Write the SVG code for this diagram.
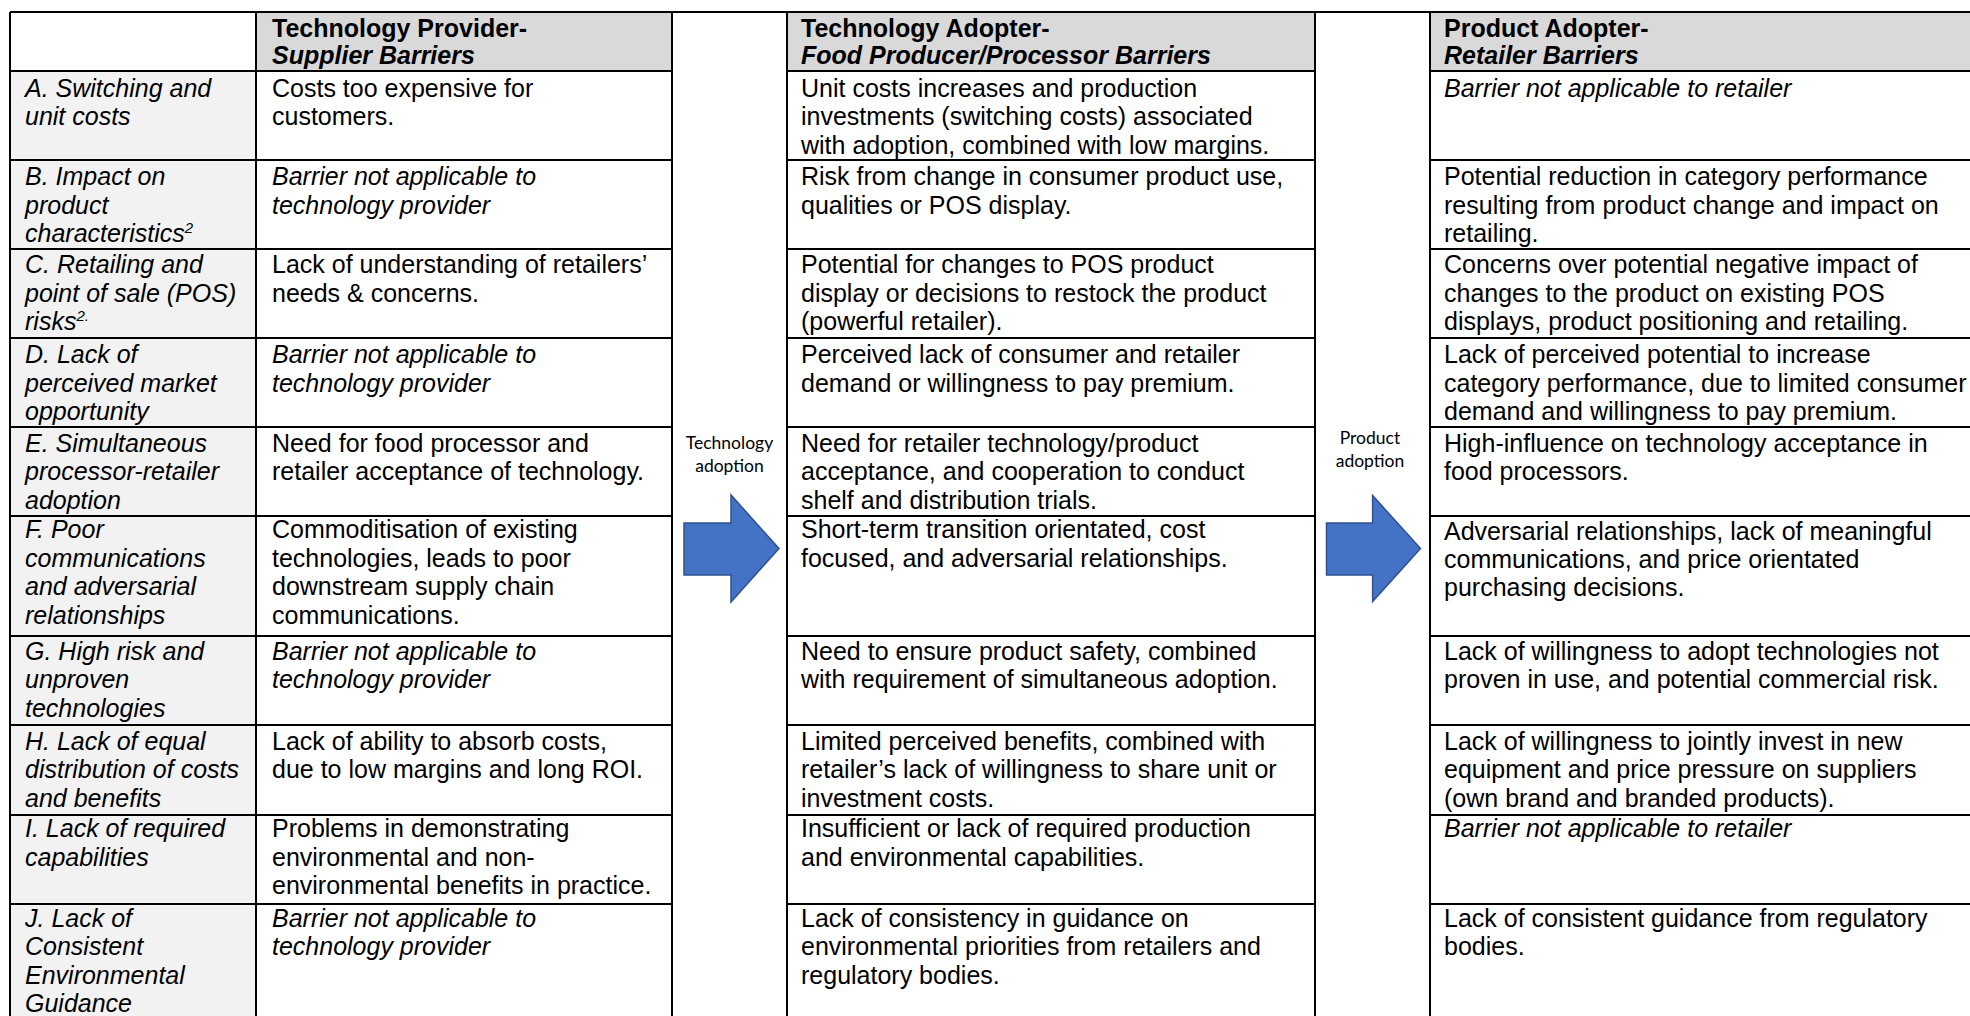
<svg xmlns="http://www.w3.org/2000/svg" width="1970" height="1016" viewBox="0 0 1970 1016">
<style>
.t{font-family:"Liberation Sans",Arial,sans-serif;font-size:25px;fill:#000}
.i{font-style:italic}
.b{font-weight:bold}
.lbl{font-family:Lato,"Open Sans",sans-serif;font-size:17.5px;fill:#000;text-anchor:middle}
.hd{fill:#d9d9d9}
.lb{fill:#f2f2f2}
.ln{stroke:#000;stroke-width:2;fill:none}
.arr{fill:#4472c4;stroke:#2f528f;stroke-width:1.5}
.sup{font-size:15px}
</style>
<rect x="0" y="0" width="1970" height="1016" fill="#fff"/>
<g id="backgrounds">
<rect class="hd" x="256" y="12" width="416" height="59"/>
<rect class="hd" x="787" y="12" width="528" height="59"/>
<rect class="hd" x="1430" y="12" width="570" height="59"/>
<rect class="lb" x="10" y="71" width="246" height="960"/>
</g>
<g id="grid">
<path class="ln" d="M10,12H2000"/>
<path class="ln" d="M10,71H672M787,71H1315M1430,71H2000"/>
<path class="ln" d="M10,160H672M787,160H1315M1430,160H2000"/>
<path class="ln" d="M10,249H672M787,249H1315M1430,249H2000"/>
<path class="ln" d="M10,338H672M787,338H1315M1430,338H2000"/>
<path class="ln" d="M10,427H672M787,427H1315M1430,427H2000"/>
<path class="ln" d="M10,516H672M787,516H1315M1430,516H2000"/>
<path class="ln" d="M10,636H672M787,636H1315M1430,636H2000"/>
<path class="ln" d="M10,725H672M787,725H1315M1430,725H2000"/>
<path class="ln" d="M10,815H672M787,815H1315M1430,815H2000"/>
<path class="ln" d="M10,904H672M787,904H1315M1430,904H2000"/>
<path class="ln" d="M10,12V1030M256,12V1030M672,12V1030M787,12V1030M1315,12V1030M1430,12V1030"/>
</g>
<g id="header">
<text class="t b" x="272" y="37">Technology Provider-<tspan class="i" x="272" dy="26.5">Supplier Barriers</tspan></text>
<text class="t b" x="801" y="37">Technology Adopter-<tspan class="i" x="801" dy="26.5">Food Producer/Processor Barriers</tspan></text>
<text class="t b" x="1444" y="37">Product Adopter-<tspan class="i" x="1444" dy="26.5">Retailer Barriers</tspan></text>
</g>
<g id="row-A">
<text class="t i" x="25" y="96.7">A. Switching and<tspan x="25" dy="28.4">unit costs</tspan></text>
<text class="t" x="272" y="96.7">Costs too expensive for<tspan x="272" dy="28.4">customers.</tspan></text>
<text class="t" x="801" y="96.7">Unit costs increases and production<tspan x="801" dy="28.4">investments (switching costs) associated</tspan><tspan x="801" dy="28.4">with adoption, combined with low margins.</tspan></text>
<text class="t i" x="1444" y="96.7">Barrier not applicable to retailer</text>
</g>
<g id="row-B">
<text class="t i" x="25" y="185.3">B. Impact on<tspan x="25" dy="28.4">product</tspan><tspan x="25" dy="28.4">characteristics</tspan><tspan class="sup" dy="-9">2</tspan></text>
<text class="t i" x="272" y="185.3">Barrier not applicable to<tspan x="272" dy="28.4">technology provider</tspan></text>
<text class="t" x="801" y="185.3">Risk from change in consumer product use,<tspan x="801" dy="28.4">qualities or POS display.</tspan></text>
<text class="t" x="1444" y="185.3">Potential reduction in category performance<tspan x="1444" dy="28.4">resulting from product change and impact on</tspan><tspan x="1444" dy="28.4">retailing.</tspan></text>
</g>
<g id="row-C">
<text class="t i" x="25" y="273.3">C. Retailing and<tspan x="25" dy="28.4">point of sale (POS)</tspan><tspan x="25" dy="28.4">risks</tspan><tspan class="sup" dy="-9">2.</tspan></text>
<text class="t" x="272" y="273.3">Lack of understanding of retailers’<tspan x="272" dy="28.4">needs &amp; concerns.</tspan></text>
<text class="t" x="801" y="273.3">Potential for changes to POS product<tspan x="801" dy="28.4">display or decisions to restock the product</tspan><tspan x="801" dy="28.4">(powerful retailer).</tspan></text>
<text class="t" x="1444" y="273.3">Concerns over potential negative impact of<tspan x="1444" dy="28.4">changes to the product on existing POS</tspan><tspan x="1444" dy="28.4">displays, product positioning and retailing.</tspan></text>
</g>
<g id="row-D">
<text class="t i" x="25" y="363.3">D. Lack of<tspan x="25" dy="28.4">perceived market</tspan><tspan x="25" dy="28.4">opportunity</tspan></text>
<text class="t i" x="272" y="363.3">Barrier not applicable to<tspan x="272" dy="28.4">technology provider</tspan></text>
<text class="t" x="801" y="363.3">Perceived lack of consumer and retailer<tspan x="801" dy="28.4">demand or willingness to pay premium.</tspan></text>
<text class="t" x="1444" y="363.3">Lack of perceived potential to increase<tspan x="1444" dy="28.4">category performance, due to limited consumer</tspan><tspan x="1444" dy="28.4">demand and willingness to pay premium.</tspan></text>
</g>
<g id="row-E">
<text class="t i" x="25" y="451.7">E. Simultaneous<tspan x="25" dy="28.4">processor-retailer</tspan><tspan x="25" dy="28.4">adoption</tspan></text>
<text class="t" x="272" y="451.7">Need for food processor and<tspan x="272" dy="28.4">retailer acceptance of technology.</tspan></text>
<text class="t" x="801" y="451.7">Need for retailer technology/product<tspan x="801" dy="28.4">acceptance, and cooperation to conduct</tspan><tspan x="801" dy="28.4">shelf and distribution trials.</tspan></text>
<text class="t" x="1444" y="451.7">High-influence on technology acceptance in<tspan x="1444" dy="28.4">food processors.</tspan></text>
</g>
<g id="row-F">
<text class="t i" x="25" y="538.3">F. Poor<tspan x="25" dy="28.4">communications</tspan><tspan x="25" dy="28.4">and adversarial</tspan><tspan x="25" dy="28.4">relationships</tspan></text>
<text class="t" x="272" y="538.3">Commoditisation of existing<tspan x="272" dy="28.4">technologies, leads to poor</tspan><tspan x="272" dy="28.4">downstream supply chain</tspan><tspan x="272" dy="28.4">communications.</tspan></text>
<text class="t" x="801" y="538.3">Short-term transition orientated, cost<tspan x="801" dy="28.4">focused, and adversarial relationships.</tspan></text>
<text class="t" x="1444" y="539.5">Adversarial relationships, lack of meaningful<tspan x="1444" dy="28.4">communications, and price orientated</tspan><tspan x="1444" dy="28.4">purchasing decisions.</tspan></text>
</g>
<g id="row-G">
<text class="t i" x="25" y="660">G. High risk and<tspan x="25" dy="28.4">unproven</tspan><tspan x="25" dy="28.4">technologies</tspan></text>
<text class="t i" x="272" y="660">Barrier not applicable to<tspan x="272" dy="28.4">technology provider</tspan></text>
<text class="t" x="801" y="660">Need to ensure product safety, combined<tspan x="801" dy="28.4">with requirement of simultaneous adoption.</tspan></text>
<text class="t" x="1444" y="660">Lack of willingness to adopt technologies not<tspan x="1444" dy="28.4">proven in use, and potential commercial risk.</tspan></text>
</g>
<g id="row-H">
<text class="t i" x="25" y="750">H. Lack of equal<tspan x="25" dy="28.4">distribution of costs</tspan><tspan x="25" dy="28.4">and benefits</tspan></text>
<text class="t" x="272" y="750">Lack of ability to absorb costs,<tspan x="272" dy="28.4">due to low margins and long ROI.</tspan></text>
<text class="t" x="801" y="750">Limited perceived benefits, combined with<tspan x="801" dy="28.4">retailer’s lack of willingness to share unit or</tspan><tspan x="801" dy="28.4">investment costs.</tspan></text>
<text class="t" x="1444" y="750">Lack of willingness to jointly invest in new<tspan x="1444" dy="28.4">equipment and price pressure on suppliers</tspan><tspan x="1444" dy="28.4">(own brand and branded products).</tspan></text>
</g>
<g id="row-I">
<text class="t i" x="25" y="837.3">I. Lack of required<tspan x="25" dy="28.4">capabilities</tspan></text>
<text class="t" x="272" y="837.3">Problems in demonstrating<tspan x="272" dy="28.4">environmental and non-</tspan><tspan x="272" dy="28.4">environmental benefits in practice.</tspan></text>
<text class="t" x="801" y="837.3">Insufficient or lack of required production<tspan x="801" dy="28.4">and environmental capabilities.</tspan></text>
<text class="t i" x="1444" y="837.3">Barrier not applicable to retailer</text>
</g>
<g id="row-J">
<text class="t i" x="25" y="926.7">J. Lack of<tspan x="25" dy="28.4">Consistent</tspan><tspan x="25" dy="28.4">Environmental</tspan><tspan x="25" dy="28.4">Guidance</tspan></text>
<text class="t i" x="272" y="926.7">Barrier not applicable to<tspan x="272" dy="28.4">technology provider</tspan></text>
<text class="t" x="801" y="926.7">Lack of consistency in guidance on<tspan x="801" dy="28.4">environmental priorities from retailers and</tspan><tspan x="801" dy="28.4">regulatory bodies.</tspan></text>
<text class="t" x="1444" y="926.7">Lack of consistent guidance from regulatory<tspan x="1444" dy="28.4">bodies.</tspan></text>
</g>
<g id="connectors">
<g id="technology-adoption">
<path class="arr" d="M684,523H731V495L779,548.5L731,602V575H684Z"/>
<text class="lbl" x="729.5" y="449">Technology<tspan x="729.5" dy="23">adoption</tspan></text>
</g>
<g id="product-adoption">
<path class="arr" d="M1326.5,523H1372.6V495.5L1420.5,548.5L1372.6,601.5V575H1326.5Z"/>
<text class="lbl" x="1370" y="444">Product<tspan x="1370" dy="23">adoption</tspan></text>
</g>
</g>
</svg>
